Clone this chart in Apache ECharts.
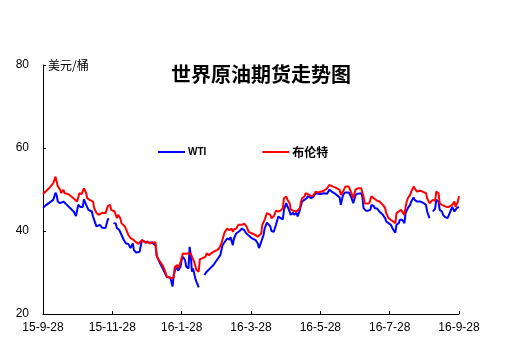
<!DOCTYPE html>
<html>
<head>
<meta charset="utf-8">
<script src="https://cdn.jsdelivr.net/npm/echarts@6/dist/echarts.min.js"></script>
<style>
  html, body { margin: 0; padding: 0; background: #fff; }
  #chart { width: 510px; height: 353px; }
</style>
</head>
<body>
<div id="chart"></div>
<script>
// x values are days since 2015-09-28
const tickLabels = ["15-9-28", "15-11-28", "16-1-28", "16-3-28", "16-5-28", "16-7-28", "16-9-28"];

const brentDays = [0,3,6,9,11,12,13,15,16,18,19,22,25,28,30,32,34,36,38,39,41,44,45,47,49,52,55,57,59,60,63,65,66,68,69,72,75,77,79,81,84,87,90,92,94,96,99,100,101,103,105,107,109,111,113,115,116,118,119,121,123,125,126,128,130,131,133,135,137,138,140,143,144,146,148,150,153,155,157,159,160,162,164,166,167,168,170,172,175,177,179,181,184,187,189,190,192,193,195,197,198,200,201,203,205,207,209,211,212,214,215,217,218,220,221,223,224,226,227,228,230,231,233,236,238,240,242,245,247,250,252,255,257,258,261,262,264,266,269,270,272,273,275,277,280,281,282,283,285,287,289,291,292,294,296,299,301,302,304,306,308,310,311,313,315,316,318,319,320,321,323,324,326,327,329,330,332,334,335,337,338,340,341,343,345,346,348,349,351,352,355,357,360,361,362,363,365,366];
const brentPrices = [48.9,49.7,50.5,51.5,53.1,51.9,50.8,50.0,49.2,49.9,49.1,48.9,48.3,47.6,47.1,49.1,48.9,50.3,49.1,47.9,47.5,47.1,45.5,44.4,43.9,44.4,44.3,46.0,46.3,45.1,44.7,43.1,43.9,43.1,41.9,41.1,39.1,38.3,38.0,37.5,36.9,37.8,37.2,37.5,37.0,37.2,37.2,34.2,33.4,32.6,31.8,30.6,29.0,28.8,28.6,28.9,31.4,31.8,31.0,32.5,34.6,34.5,34.2,34.6,34.6,33.8,32.6,30.6,30.2,33.2,33.4,33.8,34.6,34.2,34.6,35.0,35.4,35.8,37.0,39.0,39.8,40.6,40.2,40.6,39.8,40.4,40.6,41.5,41.5,41.8,41.1,39.8,39.4,39.0,38.6,38.2,39.4,41.5,42.7,44.3,44.4,43.9,43.1,43.5,44.9,44.7,44.9,45.5,47.9,48.3,47.6,46.7,45.2,44.9,45.1,44.7,44.4,45.5,47.1,47.9,48.3,49.1,48.9,48.4,48.6,49.5,49.3,49.5,49.7,50.3,51.1,50.7,50.5,50.7,49.9,48.7,49.5,50.7,50.7,50.7,48.7,47.9,50.0,50.3,50.3,49.9,48.3,46.7,46.6,46.7,48.4,47.9,47.5,47.3,47.1,46.3,45.5,44.3,43.1,42.7,42.3,41.9,44.3,44.7,45.1,44.7,43.9,45.8,47.1,47.9,48.7,49.5,50.7,50.3,49.5,49.7,49.7,49.5,49.9,49.1,47.9,46.7,47.1,47.5,47.3,49.5,49.1,46.7,46.3,46.3,45.8,45.8,46.3,46.3,47.1,45.8,47.1,48.4];

const wtiDays = [0,3,6,9,11,12,13,15,16,18,21,24,27,29,31,33,35,36,38,40,43,44,46,47,50,52,55,57,58,60,62,64,65,67,69,71,73,75,77,79,80,82,85,87,88,91,96,99,100,103,106,109,112,114,115,117,119,121,122,123,125,126,128,129,130,131,132,134,135,137,139,142,144,147,150,153,156,158,160,162,164,165,167,168,170,173,175,177,179,182,184,187,189,190,191,192,194,195,197,198,200,201,203,205,207,209,211,212,214,215,217,218,220,221,223,224,226,227,228,230,232,233,236,238,240,244,247,250,252,255,257,258,261,262,264,266,269,271,273,275,277,280,281,282,284,286,288,289,291,292,294,296,299,301,302,304,306,308,310,311,313,314,316,318,319,321,323,324,326,327,329,330,332,333,335,337,338,340,341,343,345,346,348,349,351,352,354,356,357,360,361,362,364,365,366];
const wtiPrices = [45.6,46.3,46.9,47.5,49.2,48.7,47.1,46.7,46.9,47.1,46.3,45.5,44.7,43.6,46.3,45.8,45.8,47.6,46.3,45.1,44.7,43.5,41.9,41.1,41.5,40.8,40.7,42.8,43.0,null,41.9,41.8,40.7,40.3,39.1,37.9,37.0,36.9,35.9,37.0,35.4,34.8,35.0,37.8,37.6,37.2,37.2,36.6,34.0,32.2,30.6,28.9,28.8,26.6,29.4,31.4,30.5,31.4,33.0,33.8,33.0,31.4,31.0,36.2,34.2,30.2,31.0,28.6,27.8,26.4,null,29.4,30.2,31.0,31.8,33.0,34.2,36.6,37.4,38.2,37.9,38.5,36.6,38.2,39.4,40.0,40.6,40.2,39.4,38.7,38.2,37.8,37.0,35.9,36.6,37.4,39.0,40.6,42.0,41.9,41.1,40.0,39.8,41.5,43.5,43.1,42.8,45.1,46.7,46.0,44.7,43.9,44.4,43.9,44.4,43.5,45.1,46.3,47.1,47.5,47.9,48.4,47.9,48.3,49.1,48.9,49.1,49.0,50.0,49.3,49.0,49.1,48.1,46.3,48.7,49.3,49.3,48.3,46.7,48.7,49.0,49.1,48.3,45.5,44.9,44.9,45.1,46.3,46.0,45.5,45.4,44.7,43.9,43.1,42.3,41.9,41.5,40.4,39.6,41.5,41.9,42.7,42.7,41.9,44.3,45.5,46.3,47.1,48.1,47.5,47.1,47.5,47.1,47.5,46.7,46.3,44.7,43.1,null,44.7,45.4,47.5,47.1,45.1,44.7,43.9,43.3,43.1,43.3,45.8,45.8,44.7,45.5,45.1,45.8];

const toPairs = (days, prices) => days.map((d, i) => [d, prices[i]]);

const chart = echarts.init(document.getElementById("chart"));

const labelFont = { color: "#000", fontSize: 12, fontFamily: "Liberation Sans, Arial, sans-serif" };

const option = {
  animation: false,
  backgroundColor: "#fff",
  title: {
    text: "世界原油期货走势图",
    left: 166,
    top: 59,
    textStyle: { fontSize: 20, fontWeight: "bold", color: "#000", fontFamily: "Noto Sans CJK SC" },
  },
  legend: {
    left: 158,
    top: 146,
    padding: 0,
    itemWidth: 27,
    itemHeight: 2,
    itemGap: 56,
    icon: "rect",
    textStyle: { color: "#000", fontWeight: "bold", padding: [0, 0, 0, -2] },
    data: [
      { name: "WTI", textStyle: { fontSize: 10, fontFamily: "Liberation Sans" } },
      { name: "布伦特", textStyle: { fontSize: 12, fontFamily: "Noto Sans CJK SC" } },
    ],
  },
  grid: { left: 43, right: 51, top: 65, bottom: 39 },
  xAxis: {
    type: "value",
    min: 0,
    max: 366,
    interval: 61,
    axisLine: { show: true, lineStyle: { color: "#000", width: 1 } },
    axisTick: { show: true, inside: true, length: 3, lineStyle: { color: "#000" } },
    splitLine: { show: false },
    axisLabel: {
      ...labelFont,
      margin: 8,
      showMinLabel: true,
      showMaxLabel: true,
      formatter: (v) => tickLabels[Math.round(v / 61)],
    },
  },
  yAxis: {
    type: "value",
    min: 20,
    max: 80,
    interval: 20,
    name: "美元/桶",
    nameLocation: "end",
    nameGap: 0,
    nameTextStyle: {
      align: "left",
      verticalAlign: "middle",
      padding: [0, 0, 0, 5],
      fontSize: 12,
      color: "#000",
      fontFamily: "Noto Sans CJK SC",
    },
    axisLine: { show: true, lineStyle: { color: "#000", width: 1 } },
    axisTick: { show: true, inside: true, length: 3, lineStyle: { color: "#000" } },
    splitLine: { show: false },
    axisLabel: { ...labelFont, margin: 14 },
  },
  series: [
    {
      name: "WTI",
      type: "line",
      showSymbol: false,
      symbol: "none",
      color: "#0000ff",
      lineStyle: { color: "#0000ff", width: 2 },
      data: toPairs(wtiDays, wtiPrices),
    },
    {
      name: "布伦特",
      type: "line",
      showSymbol: false,
      symbol: "none",
      color: "#ff0000",
      lineStyle: { color: "#ff0000", width: 2 },
      data: toPairs(brentDays, brentPrices),
    },
  ],
};

chart.setOption(option);
</script>
</body>
</html>
